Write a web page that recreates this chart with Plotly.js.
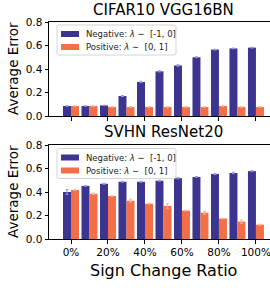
<!DOCTYPE html>
<html><head><meta charset="utf-8">
<script src="https://cdn.plot.ly/plotly-3.0.1.min.js"></script>
<style>html,body{margin:0;padding:0;overflow:hidden;background:#fff}</style>
</head><body><div id="chart" style="width:270px;height:288px"></div>
<script>
const categories = ["0%","10%","20%","30%","40%","50%","60%","70%","80%","90%","100%"];
const tickLabels = ["0%","20%","40%","60%","80%","100%"];
const seriesNames = ["Negative: <i>λ</i> ∼  [-1, 0]", "Positive: <i>λ</i> ∼  [0, 1]"];
const cifarNeg = [0.085,0.085,0.09,0.17,0.29,0.38,0.43,0.50,0.565,0.575,0.582];
const cifarNegErr = [0.002,0.002,0.002,0.004,0.006,0.005,0.006,0.004,0.003,0.003,0.004];
const cifarPos = [0.085,0.085,0.077,0.077,0.077,0.077,0.077,0.077,0.085,0.077,0.077];
const cifarPosErr = [0.002,0.002,0.002,0.002,0.002,0.002,0.002,0.002,0.002,0.002,0.003];
const svhnNeg = [0.40,0.452,0.47,0.487,0.487,0.496,0.518,0.528,0.553,0.562,0.578];
const svhnNegErr = [0.02,0.003,0.004,0.004,0.004,0.004,0.006,0.004,0.004,0.006,0.005];
const svhnPos = [0.417,0.385,0.366,0.326,0.30,0.282,0.242,0.224,0.174,0.148,0.122];
const svhnPosErr = [0.005,0.006,0.003,0.012,0.003,0.02,0.003,0.012,0.003,0.014,0.005];

const navy = "#3b3590", orange = "#f46f47";
const navyErr = "#9d97d6", orangeErr = "#f9b49c";
const colors = [navy, orange];
const xs = categories.map((c,i)=>i);

function bar(y, err, color, ecolor, name, xa, ya){
  return {type:"bar", x:xs, y:y, name:name, xaxis:xa, yaxis:ya, showlegend:false,
    marker:{color:color, line:{width:0}},
    error_y:{type:"data", array:err, visible:true, color:ecolor, thickness:1, width:1.5},
    hoverinfo:"skip"};
}
const data = [
  bar(cifarNeg,cifarNegErr,navy,navyErr,seriesNames[0],"x","y"),
  bar(cifarPos,cifarPosErr,orange,orangeErr,seriesNames[1],"x","y"),
  bar(svhnNeg,svhnNegErr,navy,navyErr,seriesNames[0],"x2","y2"),
  bar(svhnPos,svhnPosErr,orange,orangeErr,seriesNames[1],"x2","y2")
];
const W = 270, H = 288, L = 49, PW = W - L;
const px = v => (v - L) / PW;
const py = v => 1 - v / H;
const xr = [-1.19, 10.76];
function xaxis(anchor, labels){
  return {domain:[0,1], anchor:anchor, range:xr, showline:true, mirror:true, linecolor:"#000", linewidth:1,
    ticks:"outside", ticklen:3.5, tickcolor:"#000", tickwidth:1, ticklabeloverflow:"allow",
    tickmode:"array", tickvals:[0,2,4,6,8,10], ticktext: labels ? tickLabels : ["","","","","",""],
    showticklabels: labels, tickfont:{family:"DejaVu Sans", size:10.5, color:"#000"}, showgrid:false, zeroline:false, fixedrange:true};
}
function yaxis(anchor, top, bottom){
  return {domain:[py(bottom), py(top)], anchor:anchor, range:[0,0.8], showline:true, linecolor:"#000", linewidth:1,
    ticks:"outside", ticklen:3.5, tickcolor:"#000", tickwidth:1,
    tickmode:"array", tickvals:[0,0.2,0.4,0.6,0.8], ticktext:["0.0","0.2","0.4","0.6","0.8"],
    tickfont:{family:"DejaVu Sans", size:10.5, color:"#000"}, showgrid:false, zeroline:false, fixedrange:true};
}
// custom compact legend (matplotlib-like)
const shapes = [], annotations = [];
function legendBox(T){
  const x0 = 57, x1 = 176, y0 = T, y1 = T + 30, r = 2;
  const p = (x,y) => px(x) + "," + py(y);
  shapes.push({type:"path", xref:"paper", yref:"paper",
    path: "M" + p(x0+r,y0) + " L" + p(x1-r,y0) + " Q" + p(x1,y0) + " " + p(x1,y0+r) +
          " L" + p(x1,y1-r) + " Q" + p(x1,y1) + " " + p(x1-r,y1) +
          " L" + p(x0+r,y1) + " Q" + p(x0,y1) + " " + p(x0,y1-r) +
          " L" + p(x0,y0+r) + " Q" + p(x0,y0) + " " + p(x0+r,y0) + " Z",
    fillcolor:"rgba(255,255,255,0.8)", line:{color:"#d4d4d4", width:1}, layer:"above"});
  [T + 9, T + 22].forEach((yc, i) => {
    shapes.push({type:"rect", xref:"paper", yref:"paper", x0:px(61), x1:px(79), y0:py(yc+3), y1:py(yc-3),
      fillcolor:colors[i], line:{width:0}, layer:"above"});
    annotations.push({text:seriesNames[i], xref:"paper", yref:"paper", x:px(84), y:py(yc), xanchor:"left", yanchor:"middle",
      showarrow:false, font:{family:"DejaVu Sans", size:8.5, color:"#222"}});
  });
}
legendBox(25);
legendBox(148.5);
const tf = s => ({family:"DejaVu Sans", size:s, color:"#000"});
annotations.push(
  {text:"CIFAR10 VGG16BN", xref:"paper", yref:"paper", x:px(163.5), y:py(9.5), xanchor:"center", yanchor:"middle", showarrow:false, font:tf(15)},
  {text:"SVHN ResNet20", xref:"paper", yref:"paper", x:px(163.5), y:py(131.5), xanchor:"center", yanchor:"middle", showarrow:false, font:tf(15)},
  {text:"Sign Change Ratio", xref:"paper", yref:"paper", x:px(163.5), y:py(270), xanchor:"center", yanchor:"middle", showarrow:false, font:tf(16)},
  {text:"Average Error", xref:"paper", yref:"paper", x:px(13), y:py(69), xanchor:"center", yanchor:"middle", textangle:-90, showarrow:false, font:tf(13.5)},
  {text:"Average Error", xref:"paper", yref:"paper", x:px(13), y:py(192), xanchor:"center", yanchor:"middle", textangle:-90, showarrow:false, font:tf(13.5)}
);
const layout = {
  width:W, height:H, margin:{l:L, r:0, t:0, b:0},
  paper_bgcolor:"#fff", plot_bgcolor:"#fff", font:{family:"DejaVu Sans", color:"#000"},
  barmode:"group", bargap:0.135, bargroupgap:0, showlegend:false,
  xaxis: xaxis("y", false), yaxis: yaxis("x", 22, 116),
  xaxis2: xaxis("y2", true), yaxis2: yaxis("x2", 145, 239),
  shapes: shapes, annotations: annotations
};
Plotly.newPlot("chart", data, layout, {displayModeBar:false, staticPlot:true});
</script></body></html>
